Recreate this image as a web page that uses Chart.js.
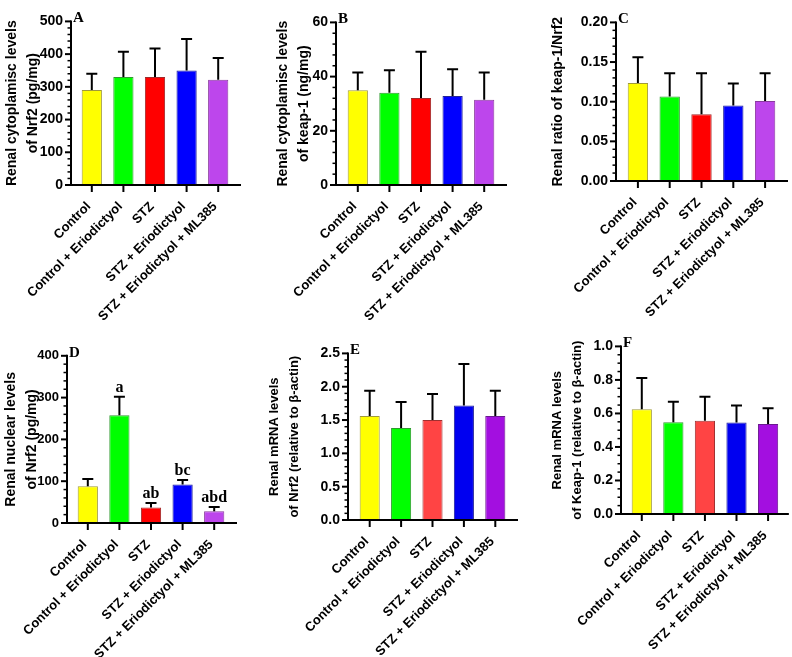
<!DOCTYPE html>
<html>
<head>
<meta charset="utf-8">
<script src="https://cdn.jsdelivr.net/npm/chart.js@4.4.0/dist/chart.umd.min.js"></script>
<style>
  html, body { margin: 0; padding: 0; background: #fff; width: 792px; height: 657px; overflow: hidden; }
  canvas { position: absolute; }
</style>
</head>
<body>
<canvas id="panelA"></canvas>
<canvas id="panelB"></canvas>
<canvas id="panelC"></canvas>
<canvas id="panelD"></canvas>
<canvas id="panelE"></canvas>
<canvas id="panelF"></canvas>
<script>
// groups on every x axis
const groups = ["Control", "Control + Eriodictyol", "STZ", "STZ + Eriodictyol", "STZ + Eriodictyol + ML385"];

// A - cytoplasmic Nrf2 (pg/mg)
const nrf2Cyto = [290, 330, 330, 350, 322];
const nrf2CytoSd = [50, 77, 87, 96, 66];
// B - cytoplasmic keap-1 (ng/mg)
const keapCyto = [35.0, 34.0, 32.1, 32.8, 31.5];
const keapCytoSd = [6.5, 8.3, 17.1, 9.9, 10.0];
// C - keap-1 / Nrf2 ratio
const keapNrf2Ratio = [0.1235, 0.1067, 0.0843, 0.0953, 0.1008];
const keapNrf2RatioSd = [0.0325, 0.0293, 0.0517, 0.0277, 0.0352];
// D - nuclear Nrf2 (pg/mg)
const nrf2Nuclear = [88, 258, 37, 92, 28];
const nrf2NuclearSd = [17, 44, 11, 11, 10];
const nrf2NuclearMarks = ["", "a", "ab", "bc", "abd"];
// E - Nrf2 mRNA
const nrf2Mrna = [1.56, 1.38, 1.50, 1.72, 1.56];
const nrf2MrnaSd = [0.38, 0.39, 0.39, 0.62, 0.38];
// F - Keap-1 mRNA
const keapMrna = [0.625, 0.548, 0.556, 0.546, 0.537];
const keapMrnaSd = [0.187, 0.122, 0.144, 0.101, 0.094];

const topColors = ["#ffff00", "#00ff00", "#ff0000", "#0000ff", "#bd46ec"];
const topBorders = ["#a09a3a", "#2f9a2f", "#a02a2a", "#22229a", "#8a3aa0"];
const lowColors = ["#ffff00", "#00ff00", "#ff4444", "#0000f0", "#a30fe0"];
const lowBorders = ["#a09a3a", "#2f9a2f", "#a03030", "#22229a", "#6a1a90"];

const SANS = 'Arial, "Liberation Sans", sans-serif';
const SERIF = '"Times New Roman", "Liberation Serif", serif';

// draws GraphPad-style axes, ticks, error bars and letters
const panelPlugin = {
  id: "panel",
  afterDraw(chart, args, o) {
    const { ctx, chartArea: a, scales: { x, y } } = chart;
    const meta = chart.getDatasetMeta(0);
    const ax = a.left - o.gap;
    ctx.save();
    ctx.strokeStyle = "#000";
    ctx.fillStyle = "#000";
    ctx.lineCap = "butt";

    // y axis + ticks
    ctx.lineWidth = 2;
    ctx.beginPath();
    ctx.moveTo(ax, y.getPixelForValue(o.max) - 1);
    ctx.lineTo(ax, a.bottom + 1);
    ctx.stroke();
    const n = Math.round(o.max / o.minor);
    for (let i = 0; i <= n; i++) {
      const v = i * o.minor;
      const py = y.getPixelForValue(v);
      const major = i % Math.round(o.step / o.minor) === 0;
      ctx.lineWidth = major ? 2 : 1.5;
      ctx.beginPath();
      ctx.moveTo(ax, py);
      ctx.lineTo(ax - (major ? 6 : 3.5), py);
      ctx.stroke();
    }

    // x axis + ticks
    ctx.lineWidth = 2;
    ctx.beginPath();
    ctx.moveTo(ax - 1, a.bottom);
    ctx.lineTo(a.right + o.ext, a.bottom);
    ctx.stroke();
    meta.data.forEach(bar => {
      ctx.beginPath();
      ctx.moveTo(bar.x, a.bottom);
      ctx.lineTo(bar.x, a.bottom + 7);
      ctx.stroke();
    });

    // error bars (upper only)
    meta.data.forEach((bar, i) => {
      const t = y.getPixelForValue(o.means[i] + o.sds[i]);
      ctx.beginPath();
      ctx.moveTo(bar.x, bar.y);
      ctx.lineTo(bar.x, t);
      ctx.moveTo(bar.x - 5.5, t);
      ctx.lineTo(bar.x + 5.5, t);
      ctx.stroke();
      if (o.marks && o.marks[i]) {
        ctx.font = "bold 16px " + SERIF;
        ctx.textAlign = "center";
        ctx.textBaseline = "alphabetic";
        ctx.fillText(o.marks[i], bar.x, t - 5);
      }
    });

    // panel letter
    ctx.font = "bold 15px " + SERIF;
    ctx.textAlign = "left";
    ctx.textBaseline = "alphabetic";
    ctx.fillText(o.letter, ax + 2, a.top + 1);
    ctx.restore();
  }
};

function makePanel(p) {
  const el = document.getElementById(p.id);
  const lh = p.titleSize * 1.5;
  const xHeight = 150;
  const left = Math.round(p.titleX - 1 - lh / 2);
  const top = Math.max(0, p.chartTop - 20);
  const width = p.axisEnd + 4 - left;
  const height = p.chartBottom - top + xHeight;
  el.width = width;
  el.height = height;
  el.style.left = left + "px";
  el.style.top = top + "px";

  new Chart(el, {
    type: "bar",
    data: {
      labels: groups,
      datasets: [{
        data: p.means,
        backgroundColor: p.colors,
        borderColor: p.borders,
        borderWidth: 1,
        barPercentage: 0.64,
        categoryPercentage: 1
      }]
    },
    options: {
      responsive: false,
      animation: false,
      devicePixelRatio: 1,
      layout: { padding: { top: p.chartTop - top, right: left + width - p.chartRight, bottom: 0, left: 0 } },
      plugins: {
        legend: { display: false },
        tooltip: { enabled: false },
        panel: {
          gap: p.chartLeft - p.axisX, ext: p.axisEnd - p.chartRight,
          max: p.max, step: p.step, minor: p.minor,
          means: p.means, sds: p.sds, marks: p.marks, letter: p.letter
        }
      },
      scales: {
        x: {
          offset: true,
          grid: { display: false, drawTicks: false },
          border: { display: false },
          ticks: {
            autoSkip: false, minRotation: 45, maxRotation: 45, padding: 14, labelOffset: -3, color: "#000",
            font: { family: SANS, weight: "bold", size: 13 }
          },
          afterFit: s => { s.height = xHeight; }
        },
        y: {
          min: 0, max: p.max,
          grid: { display: false, drawTicks: false },
          border: { display: false },
          ticks: {
            stepSize: p.step, padding: p.chartLeft - p.axisX + 8, color: "#000",
            font: { family: SANS, weight: "bold", size: p.tickSize },
            callback: v => Number(v).toFixed(p.decimals)
          },
          title: {
            display: true, text: p.title, color: "#000",
            font: { family: SANS, weight: "bold", size: p.titleSize, lineHeight: 1.5 },
            padding: { top: 1, bottom: 0 }
          },
          afterFit: s => { s.width = p.chartLeft - left; }
        }
      }
    },
    plugins: [panelPlugin]
  });
}

makePanel({ id: "panelA", letter: "A", titleX: 12, titleSize: 14, tickSize: 14, axisX: 71, chartLeft: 76, chartRight: 234, chartTop: 15, chartBottom: 185, axisEnd: 241,
  title: ["Renal cytoplamisc levels", "of Nrf2 (pg/mg)"], max: 500, step: 100, minor: 20, decimals: 0,
  means: nrf2Cyto, sds: nrf2CytoSd, colors: topColors, borders: topBorders });
makePanel({ id: "panelB", letter: "B", titleX: 283, titleSize: 14, tickSize: 14, axisX: 336, chartLeft: 342, chartRight: 500, chartTop: 15, chartBottom: 185, axisEnd: 507,
  title: ["Renal cytoplamisc levels", "of keap-1 (ng/mg)"], max: 60, step: 20, minor: 4, decimals: 0,
  means: keapCyto, sds: keapCytoSd, colors: topColors, borders: topBorders });
makePanel({ id: "panelC", letter: "C", titleX: 558, titleSize: 14, tickSize: 14, axisX: 616, chartLeft: 622, chartRight: 781, chartTop: 11, chartBottom: 181, axisEnd: 788,
  title: "Renal ratio of keap-1/Nrf2", max: 0.2, step: 0.05, minor: 0.01, decimals: 2,
  means: keapNrf2Ratio, sds: keapNrf2RatioSd, colors: topColors, borders: topBorders });
makePanel({ id: "panelD", letter: "D", titleX: 11, titleSize: 14, tickSize: 13, axisX: 67, chartLeft: 72, chartRight: 230, chartTop: 355, chartBottom: 523, axisEnd: 237,
  title: ["Renal nuclear levels", "of Nrf2 (pg/mg)"], max: 400, step: 100, minor: 20, decimals: 0,
  means: nrf2Nuclear, sds: nrf2NuclearSd, marks: nrf2NuclearMarks, colors: topColors, borders: topBorders });
makePanel({ id: "panelE", letter: "E", titleX: 275, titleSize: 13, tickSize: 14, axisX: 348, chartLeft: 354, chartRight: 511, chartTop: 351, chartBottom: 520, axisEnd: 518,
  title: ["Renal mRNA levels", "of Nrf2 (relative to β-actin)"], max: 2.5, step: 0.5, minor: 0.1, decimals: 1,
  means: nrf2Mrna, sds: nrf2MrnaSd, colors: lowColors, borders: lowBorders });
makePanel({ id: "panelF", letter: "F", titleX: 558, titleSize: 13, tickSize: 14, axisX: 621, chartLeft: 626, chartRight: 785, chartTop: 345, chartBottom: 514, axisEnd: 790,
  title: ["Renal mRNA levels", "of Keap-1 (relative to β-actin)"], max: 1.0, step: 0.2, minor: 0.05, decimals: 1,
  means: keapMrna, sds: keapMrnaSd, colors: lowColors, borders: lowBorders });
</script>
</body>
</html>
